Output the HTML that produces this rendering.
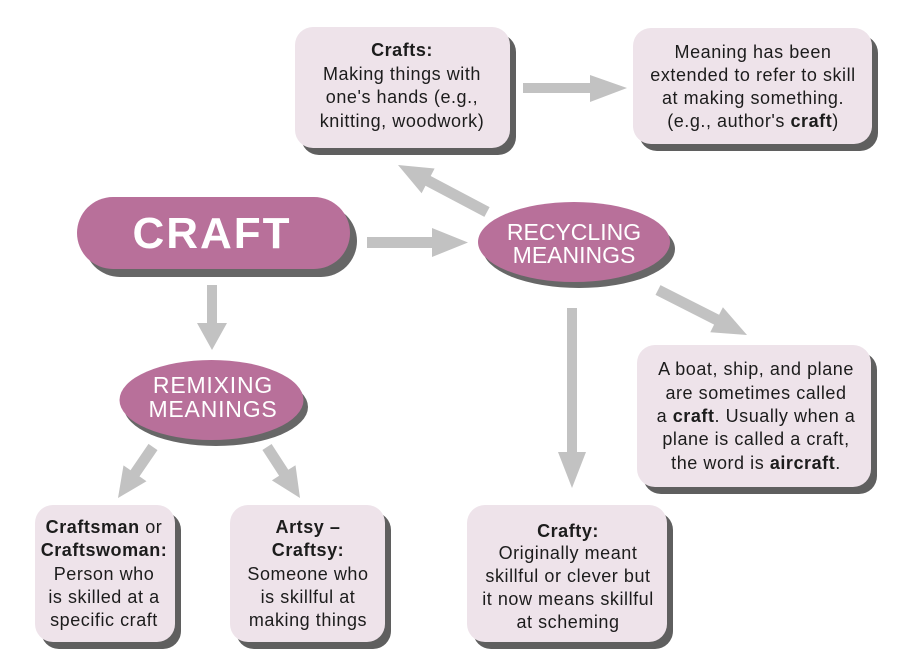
<!DOCTYPE html>
<html>
<head>
<meta charset="utf-8">
<style>
  html, body { margin:0; padding:0; background:#ffffff; }
  svg { display:block; }
  .t { font-family:"Liberation Sans", sans-serif; font-size:18px; fill:#1c1c1c; letter-spacing:0.55px; }
  .b { font-weight:bold; }
  .w { font-family:"Liberation Sans", sans-serif; fill:#ffffff; }
</style>
</head>
<body>
<svg width="900" height="670" viewBox="0 0 900 670" xmlns="http://www.w3.org/2000/svg">
  <rect x="0" y="0" width="900" height="670" fill="#ffffff"/>

  <!-- arrows -->
  <g fill="#c2c2c2">
    <polygon points="367,237 432,237 432,228 468,242.5 432,257 432,248 367,248"/>
    <polygon points="523,83 590,83 590,75 627,88 590,102 590,93 523,93"/>
    <polygon points="567,308 577,308 577,452 586,452 572,488 558,452 567,452"/>
    <polygon points="207,285 217,285 217,323 227,323 212,350 197,323 207,323"/>
    <polygon points="489.6,207.1 430.7,176 434.6,168.5 398,165 421.6,193.3 425.5,185.8 484.4,216.9"/>
    <polygon points="660.5,285.1 719.1,314.8 722.9,307.2 747,335 710.3,332.2 714.1,324.6 655.5,294.9"/>
    <polygon points="148.5,443.9 130.5,470.2 123.5,465.4 118,498 146.5,481.2 139.5,476.4 157.5,450.1"/>
    <polygon points="271.6,444 288.3,469.8 295.5,465.2 300,498 271.9,480.4 279.1,475.8 262.4,450"/>
  </g>

  <!-- CRAFT pill -->
  <rect x="84" y="205" width="273" height="72" rx="36" fill="#676767"/>
  <rect x="77" y="197" width="273" height="72" rx="36" fill="#b8709a"/>
  <text class="w" x="212" y="248" text-anchor="middle" font-size="44" font-weight="bold" letter-spacing="2">CRAFT</text>

  <!-- Recycling ellipse -->
  <ellipse cx="579" cy="249" rx="96" ry="39" fill="#676767"/>
  <ellipse cx="574" cy="242" rx="96" ry="40" fill="#b8709a"/>
  <text class="w" x="574" y="240" text-anchor="middle" font-size="23">RECYCLING</text>
  <text class="w" x="574" y="263" text-anchor="middle" font-size="23">MEANINGS</text>

  <!-- Remixing ellipse -->
  <ellipse cx="216" cy="407" rx="92" ry="39" fill="#676767"/>
  <ellipse cx="211.5" cy="400" rx="92" ry="40" fill="#b8709a"/>
  <text class="w" x="213" y="393" text-anchor="middle" font-size="23" letter-spacing="0.8">REMIXING</text>
  <text class="w" x="213" y="417" text-anchor="middle" font-size="23" letter-spacing="0.8">MEANINGS</text>

  <!-- boxes: shadows -->
  <g fill="#5f5f5f">
    <rect x="301" y="34" width="215" height="121" rx="18"/>
    <rect x="639" y="35" width="239" height="116" rx="18"/>
    <rect x="643" y="352" width="234" height="142" rx="18"/>
    <rect x="473" y="512" width="200" height="137" rx="18"/>
    <rect x="41" y="512" width="140" height="137" rx="18"/>
    <rect x="236" y="512" width="155" height="137" rx="18"/>
  </g>
  <!-- boxes: fills -->
  <g fill="#eee3ea">
    <rect x="295" y="27" width="215" height="121" rx="18"/>
    <rect x="633" y="28" width="239" height="116" rx="18"/>
    <rect x="637" y="345" width="234" height="142" rx="18"/>
    <rect x="467" y="505" width="200" height="137" rx="18"/>
    <rect x="35" y="505" width="140" height="137" rx="18"/>
    <rect x="230" y="505" width="155" height="137" rx="18"/>
  </g>

  <!-- Crafts box text -->
  <g class="t" text-anchor="middle">
    <text x="402" y="56" class="b">Crafts:</text>
    <text x="402" y="80">Making things with</text>
    <text x="402" y="103">one's hands (e.g.,</text>
    <text x="402" y="127">knitting, woodwork)</text>
  </g>

  <!-- Meaning box text -->
  <g class="t" text-anchor="middle">
    <text x="753" y="58">Meaning has been</text>
    <text x="753" y="81">extended to refer to skill</text>
    <text x="753" y="104">at making something.</text>
    <text x="753" y="127">(e.g., author's <tspan class="b">craft</tspan>)</text>
  </g>

  <!-- Boat box text -->
  <g class="t" text-anchor="middle">
    <text x="756" y="375">A boat, ship, and plane</text>
    <text x="756" y="399">are sometimes called</text>
    <text x="756" y="422">a <tspan class="b">craft</tspan>. Usually when a</text>
    <text x="756" y="445">plane is called a craft,</text>
    <text x="756" y="469">the word is <tspan class="b">aircraft</tspan>.</text>
  </g>

  <!-- Crafty box text -->
  <g class="t" text-anchor="middle">
    <text x="568" y="537" class="b">Crafty:</text>
    <text x="568" y="559">Originally meant</text>
    <text x="568" y="582">skillful or clever but</text>
    <text x="568" y="605">it now means skillful</text>
    <text x="568" y="628">at scheming</text>
  </g>

  <!-- Craftsman box text -->
  <g class="t" text-anchor="middle">
    <text x="104" y="533"><tspan class="b">Craftsman</tspan> or</text>
    <text x="104" y="556" class="b">Craftswoman:</text>
    <text x="104" y="580">Person who</text>
    <text x="104" y="603">is skilled at a</text>
    <text x="104" y="626">specific craft</text>
  </g>

  <!-- Artsy box text -->
  <g class="t" text-anchor="middle">
    <text x="308" y="533" class="b">Artsy –</text>
    <text x="308" y="556" class="b">Craftsy:</text>
    <text x="308" y="580">Someone who</text>
    <text x="308" y="603">is skillful at</text>
    <text x="308" y="626">making things</text>
  </g>
</svg>
</body>
</html>
